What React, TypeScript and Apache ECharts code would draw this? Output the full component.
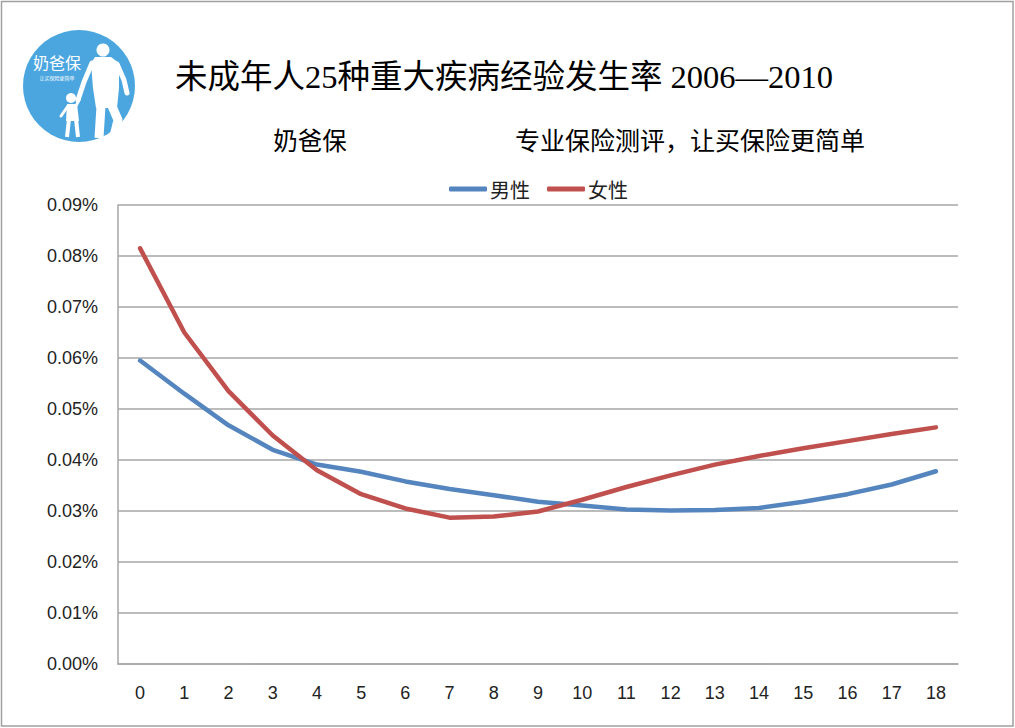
import React, { useEffect, useRef } from "react";
import * as echarts from "echarts";

const ages = ["0","1","2","3","4","5","6","7","8","9","10","11","12","13","14","15","16","17","18"];
// values in percent units (e.g. 0.0595 means 0.0595%)
const maleRates = [0.0595,0.053,0.0468,0.042,0.0391,0.0377,0.0358,0.0343,0.0331,0.0318,0.0311,0.0303,0.0301,0.0302,0.0306,0.0318,0.0333,0.0352,0.0378];
const femaleRates = [0.0815,0.065,0.0535,0.0448,0.038,0.0333,0.0305,0.0287,0.0289,0.0299,0.0322,0.0347,0.037,0.0391,0.0408,0.0423,0.0437,0.0451,0.0464];
const seriesNames = ["男性", "女性"];
const titleText = "未成年人25种重大疾病经验发生率 2006—2010";
const brandText = "奶爸保";
const sloganText = "专业保险测评，让买保险更简单";
const logoSmallText = "让买保险更简单";

export default function App() {
  const ref = useRef<HTMLDivElement>(null);
  useEffect(() => {
    document.body.style.margin = "0";
    const chart = echarts.init(ref.current!, null, { renderer: "svg" });
    const white = "#ffffff";
    const option: any = {
      animation: false,
      backgroundColor: "#ffffff",
      grid: { left: 118, right: 57, top: 205, bottom: 64 },
      legend: {
        left: 444,
        top: 174,
        icon: "roundRect",
        itemWidth: 38,
        itemHeight: 5,
        itemGap: 17,
        textStyle: { fontSize: 20, color: "#222", fontFamily: "'Noto Sans CJK SC'", padding: [0, 0, 0, -2] },
        data: seriesNames,
      },
      xAxis: {
        type: "category",
        data: ages,
        boundaryGap: true,
        axisLine: { lineStyle: { color: "#a6a6a6", width: 1.5 } },
        axisTick: { show: false },
        axisLabel: { fontSize: 18, color: "#222", margin: 20, fontFamily: "'Liberation Sans'" },
      },
      yAxis: {
        type: "value",
        min: 0,
        max: 0.09,
        interval: 0.01,
        axisLine: { show: true, lineStyle: { color: "#a6a6a6", width: 1.5 } },
        axisTick: { show: false },
        splitLine: { lineStyle: { color: "#a6a6a6", width: 1.5 } },
        axisLabel: {
          fontSize: 18,
          color: "#222",
          margin: 20,
          fontFamily: "'Liberation Sans'",
          formatter: (v: number) => v.toFixed(2) + "%",
        },
      },
      series: [
        {
          name: seriesNames[0],
          type: "line",
          data: maleRates,
          symbol: "none",
          lineStyle: { color: "#5585BE", width: 4.5, cap: "round", join: "round" },
          itemStyle: { color: "#5585BE" },
        },
        {
          name: seriesNames[1],
          type: "line",
          data: femaleRates,
          symbol: "none",
          lineStyle: { color: "#C0504D", width: 4.5, cap: "round", join: "round" },
          itemStyle: { color: "#C0504D" },
        },
      ],
      graphic: [
        {
          type: "rect",
          shape: { x: 1.5, y: 1.5, width: 1011.5, height: 724.5 },
          style: { fill: "none", stroke: "#a0a0a0", lineWidth: 1.5 },
          silent: true,
        },
        {
          type: "text",
          x: 504,
          y: 77,
          style: {
            text: titleText,
            fontSize: 32.5,
            fontFamily: "'Liberation Serif', 'Noto Sans CJK SC'",
            fill: "#000",
            align: "center",
            verticalAlign: "middle",
          },
        },
        {
          type: "text",
          x: 310,
          y: 139,
          style: { text: brandText, fontSize: 24.5, fontFamily: "'Noto Sans CJK SC'", fill: "#000", align: "center", verticalAlign: "middle" },
        },
        {
          type: "text",
          x: 690,
          y: 139,
          style: { text: sloganText, fontSize: 25, fontFamily: "'Noto Sans CJK SC'", fill: "#000", align: "center", verticalAlign: "middle" },
        },
        // logo
        {
          type: "group",
          children: [
            { type: "circle", shape: { cx: 79, cy: 86, r: 56 }, style: { fill: "#4BA6E0" } },
            { type: "text", x: 57, y: 62, style: { text: brandText, fontSize: 16, fontFamily: "'Noto Sans CJK SC'", fill: white, align: "center", verticalAlign: "middle" } },
            { type: "text", x: 57, y: 77, style: { text: logoSmallText, fontSize: 5, fontFamily: "'Noto Sans CJK SC'", fill: white, align: "center", verticalAlign: "middle" } },
            // adult
            { type: "circle", shape: { cx: 103, cy: 50, r: 6.5 }, style: { fill: white } },
            { type: "polygon", shape: { points: [[95, 57], [111, 57], [119, 63], [119, 88], [117, 108], [96, 108], [93, 88], [91, 63]] }, style: { fill: white } },
            { type: "polyline", shape: { points: [[92, 63], [84, 82], [78, 100]] }, style: { stroke: white, lineWidth: 5, lineCap: "round", lineJoin: "round" } },
            { type: "polyline", shape: { points: [[117, 64], [124, 80], [127, 93]] }, style: { stroke: white, lineWidth: 5, lineCap: "round", lineJoin: "round" } },
            { type: "polyline", shape: { points: [[101, 106], [100, 122], [99, 138]] }, style: { stroke: white, lineWidth: 9, lineCap: "butt", lineJoin: "round" } },
            { type: "polyline", shape: { points: [[112, 106], [118, 120], [114, 136]] }, style: { stroke: white, lineWidth: 9, lineCap: "butt", lineJoin: "round" } },
            // child
            { type: "circle", shape: { cx: 71, cy: 98, r: 5 }, style: { fill: white } },
            { type: "polygon", shape: { points: [[67, 104], [77, 104], [79, 121], [66, 121]] }, style: { fill: white } },
            { type: "polyline", shape: { points: [[76, 106], [79, 100]] }, style: { stroke: white, lineWidth: 3, lineCap: "round" } },
            { type: "polyline", shape: { points: [[68, 106], [61, 116]] }, style: { stroke: white, lineWidth: 3, lineCap: "round" } },
            { type: "polyline", shape: { points: [[69, 119], [67, 137]] }, style: { stroke: white, lineWidth: 4, lineCap: "butt" } },
            { type: "polyline", shape: { points: [[76, 119], [78, 137]] }, style: { stroke: white, lineWidth: 4, lineCap: "butt" } },
          ],
        },
      ],
    };
    chart.setOption(option);
    return () => chart.dispose();
  }, []);
  return <div ref={ref} style={{ position: "absolute", left: 0, top: 0, width: 1015, height: 728 }} />;
}
